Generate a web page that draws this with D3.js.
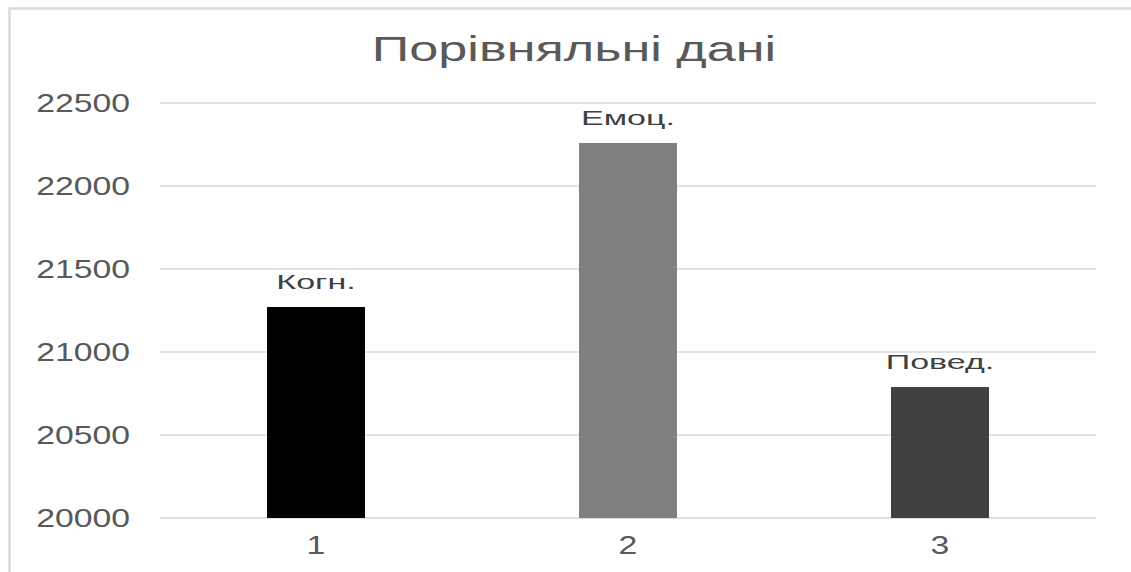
<!DOCTYPE html>
<html>
<head>
<meta charset="utf-8">
<script src="https://cdn.jsdelivr.net/npm/d3@7"></script>
<style>
  body { margin: 0; background: #fff; }
  text { font-family: "Liberation Sans", Arial, sans-serif; }
</style>
</head>
<body>
<div id="chart"></div>
<script>
var categories = ["1", "2", "3"];
var values = [21271, 22259, 20789];
var barLabels = ["Когн.", "Емоц.", "Повед."];
var barColors = ["#000000", "#808080", "#404040"];
var yTicks = [20000, 20500, 21000, 21500, 22000, 22500];
var title = "Порівняльні дані";

var svgWidth = 1131;
var svgHeight = 572;
var stretch = 1.35; // text in the picture is wider than it is tall

var svg = d3.select("#chart")
  .append("svg")
  .attr("width", svgWidth)
  .attr("height", svgHeight);

// chart area border (only top and left are visible)
svg.append("rect")
  .attr("x", 9.5)
  .attr("y", 8.5)
  .attr("width", 1200)
  .attr("height", 700)
  .attr("fill", "none")
  .attr("stroke", "#d9d9d9")
  .attr("stroke-width", 2.5);

var x = d3.scaleBand()
  .domain(categories)
  .range([160, 1096])
  .paddingInner(0.686)
  .paddingOuter(0.343);

var y = d3.scaleLinear()
  .domain([20000, 22500])
  .range([518, 103]);

// gridlines
svg.append("g")
  .selectAll("line")
  .data(yTicks)
  .enter()
  .append("line")
  .attr("x1", 160)
  .attr("x2", 1096)
  .attr("y1", d => y(d))
  .attr("y2", d => y(d))
  .attr("stroke", "#d9d9d9")
  .attr("stroke-width", 1.5);

// y tick labels
svg.append("g")
  .selectAll("text")
  .data(yTicks)
  .enter()
  .append("text")
  .attr("transform", d => `translate(130, ${y(d) + 9}) scale(${stretch}, 1)`)
  .attr("text-anchor", "end")
  .attr("font-size", 25)
  .attr("fill", "#595959")
  .text(d => d);

// x tick labels
svg.append("g")
  .selectAll("text")
  .data(categories)
  .enter()
  .append("text")
  .attr("transform", d => `translate(${x(d) + x.bandwidth() / 2}, 554) scale(${stretch}, 1)`)
  .attr("text-anchor", "middle")
  .attr("font-size", 25)
  .attr("fill", "#595959")
  .text(d => d);

// bars
svg.append("g")
  .selectAll("rect")
  .data(values)
  .enter()
  .append("rect")
  .attr("x", (d, i) => x(categories[i]))
  .attr("y", d => y(d))
  .attr("width", x.bandwidth())
  .attr("height", d => y(20000) - y(d))
  .attr("fill", (d, i) => barColors[i]);

// data labels
svg.append("g")
  .selectAll("text")
  .data(values)
  .enter()
  .append("text")
  .attr("transform", (d, i) => `translate(${x(categories[i]) + x.bandwidth() / 2}, ${y(d) - 18}) scale(1.7, 1)`)
  .attr("text-anchor", "middle")
  .attr("font-size", 20)
  .attr("fill", "#404040")
  .text((d, i) => barLabels[i]);

// title
svg.append("text")
  .attr("transform", `translate(574, 61) scale(1.45, 1)`)
  .attr("text-anchor", "middle")
  .attr("font-size", 36)
  .attr("fill", "#595959")
  .text(title);
</script>
</body>
</html>
